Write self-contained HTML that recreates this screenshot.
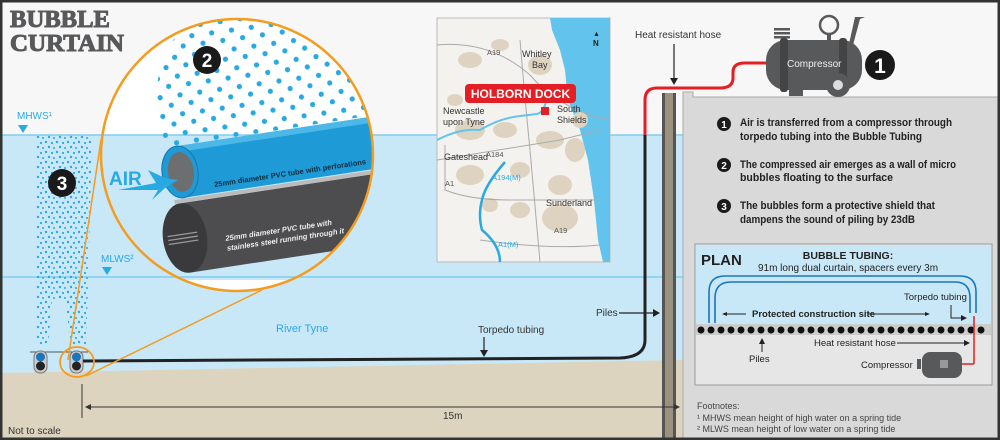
<!DOCTYPE html>
<html><head><meta charset="utf-8"><style>
html,body{margin:0;padding:0;}
body{width:1000px;height:440px;overflow:hidden;background:#fff;}
svg{display:block;}
text{font-family:"Liberation Sans",sans-serif;}
text.ttl{font-family:"Liberation Serif",serif;}
</style></head><body>
<svg width="1000" height="440" viewBox="0 0 1000 440" xmlns="http://www.w3.org/2000/svg">
<defs>
<pattern id="bub" width="11" height="10" patternUnits="userSpaceOnUse">
<circle cx="2" cy="2" r="1.2" fill="#29a9e1"/><circle cx="8" cy="3" r="1.1" fill="#29a9e1"/>
<circle cx="5" cy="7" r="1.2" fill="#29a9e1"/><circle cx="10" cy="8" r="1" fill="#29a9e1"/>
</pattern>
<pattern id="bigbub" width="20" height="19" patternUnits="userSpaceOnUse" patternTransform="rotate(-8)">
<circle cx="5" cy="5" r="2.6" fill="#29a9e1"/><circle cx="15" cy="14" r="2.6" fill="#29a9e1"/>
</pattern>
<clipPath id="cc"><circle cx="237" cy="155" r="136"/></clipPath>
<clipPath id="mc"><rect x="437" y="18" width="173" height="244"/></clipPath>
</defs>
<rect x="0" y="0" width="1000" height="440" fill="#f7f7f7"/>
<rect x="0" y="135" width="684" height="245" fill="#c8e8f8"/>
<line x1="0" y1="135" x2="684" y2="135" stroke="#7fcdf0" stroke-width="1.5"/>
<line x1="0" y1="277" x2="684" y2="277" stroke="#7fcdf0" stroke-width="1.5"/>
<polygon points="0,373 684,360 684,440 0,440" fill="#ddd4bf"/>
<path d="M36,135 L92,135 L88,290 L86,345 L70,345 L66,300 L52,300 L48,345 L36,345 Z" fill="url(#bub)"/>
<circle cx="62" cy="183" r="14" fill="#1a1a1a"/><text x="62" y="190" text-anchor="middle" font-weight="bold" font-size="19" fill="#fff">3</text>
<text x="17" y="119" font-size="10" fill="#29a9e1">MHWS¹</text><polygon points="18,125 28,125 23,133" fill="#29a9e1"/>
<text x="101" y="262" font-size="10" fill="#29a9e1">MLWS²</text><polygon points="102,267 112,267 107,275" fill="#29a9e1"/>
<line x1="30" y1="352" x2="88" y2="352" stroke="#555" stroke-width="1"/>
<rect x="34" y="351" width="13" height="22" rx="6" fill="#ccc" stroke="#777"/>
<circle cx="40.5" cy="357" r="4.5" fill="#1b75bb"/><circle cx="40.5" cy="366" r="4.5" fill="#222"/>
<rect x="70" y="351" width="13" height="22" rx="6" fill="#ccc" stroke="#777"/>
<circle cx="76.5" cy="357" r="4.5" fill="#1b75bb"/><circle cx="76.5" cy="366" r="4.5" fill="#222"/>
<path d="M83,361 L620,358 Q645,357 645,340 L645,135" fill="none" stroke="#222" stroke-width="3"/>
<path d="M645,135 L645,100 Q645,88 657,88 L720,88 Q733,88 733,78 L733,72 Q733,63 745,63 L768,63" fill="none" stroke="#e31e24" stroke-width="3"/>
<line x1="68" y1="360" x2="101" y2="140" stroke="#f39c1f" stroke-width="1.5"/>
<line x1="86" y1="376" x2="262" y2="290" stroke="#f39c1f" stroke-width="1.5"/>
<ellipse cx="77" cy="362" rx="17" ry="15" fill="none" stroke="#f39c1f" stroke-width="1.8"/>
<rect x="662" y="93" width="14" height="347" fill="#555"/>
<rect x="665" y="93" width="8" height="347" fill="#9a917e"/>
<path d="M683,92 L693,92 L693,97 L1000,97 L1000,440 L683,440 Z" fill="#d9d9d9" stroke="#aaa" stroke-width="1"/>
<text x="635" y="38" font-size="10" fill="#333">Heat resistant hose</text>
<line x1="674" y1="44" x2="674" y2="80" stroke="#222" stroke-width="1.2"/><polygon points="670,78 678,78 674,85" fill="#222"/>
<text x="276" y="332" font-size="11" fill="#29a9e1">River Tyne</text>
<text x="478" y="333" font-size="10" fill="#333">Torpedo tubing</text>
<line x1="484" y1="337" x2="484" y2="352" stroke="#222" stroke-width="1.2"/><polygon points="480,350 488,350 484,357" fill="#222"/>
<text x="596" y="316" font-size="10" fill="#333">Piles</text>
<line x1="619" y1="313" x2="655" y2="313" stroke="#222" stroke-width="1.2"/><polygon points="653,309 660,313 653,317" fill="#222"/>
<line x1="82" y1="384" x2="82" y2="418" stroke="#333" stroke-width="1"/>
<line x1="86" y1="407" x2="678" y2="407" stroke="#333" stroke-width="1"/>
<polygon points="85,407 91,404 91,410" fill="#333"/><polygon points="680,407 674,404 674,410" fill="#333"/>
<text x="443" y="419" font-size="10" fill="#333">15m</text>
<text x="8" y="434" font-size="10" fill="#333">Not to scale</text>
<g fill="#58595b">
<rect x="774" y="28" width="16" height="2.5"/><rect x="774" y="32" width="16" height="2.5"/><rect x="774" y="36" width="16" height="2.5"/>
<circle cx="829" cy="25" r="9" fill="none" stroke="#58595b" stroke-width="2.5"/>
<rect x="827" y="33" width="4" height="8"/>
<polygon points="855,17 865,17 860,19 853,45 849,44"/>
<rect x="766" y="40" width="96" height="50" rx="20"/>
<rect x="780" y="38" width="8" height="54" rx="3" fill="#444"/><rect x="839" y="38" width="8" height="54" rx="3" fill="#444"/>
<rect x="789" y="88" width="14" height="8"/>
<circle cx="838" cy="85" r="12"/><circle cx="838" cy="85" r="5" fill="#ddd"/>
</g>
<text x="787" y="67" font-size="10" fill="#eee">Compressor</text>
<circle cx="880" cy="65" r="15" fill="#1a1a1a"/><text x="880" y="73" text-anchor="middle" font-weight="bold" font-size="21" fill="#fff">1</text>
<g font-size="11" font-weight="bold" fill="#222">
<circle cx="724" cy="124" r="7" fill="#1a1a1a"/><text x="724" y="128" text-anchor="middle" font-size="10" fill="#fff">1</text>
<text x="740" y="126" textLength="212" lengthAdjust="spacingAndGlyphs">Air is transferred from a compressor through</text>
<text x="740" y="140" textLength="182" lengthAdjust="spacingAndGlyphs">torpedo tubing into the Bubble Tubing</text>
<circle cx="724" cy="165" r="7" fill="#1a1a1a"/><text x="724" y="169" text-anchor="middle" font-size="10" fill="#fff">2</text>
<text x="740" y="168" textLength="216" lengthAdjust="spacingAndGlyphs">The compressed air emerges as a wall of micro</text>
<text x="740" y="181" textLength="153" lengthAdjust="spacingAndGlyphs">bubbles floating to the surface</text>
<circle cx="724" cy="206" r="7" fill="#1a1a1a"/><text x="724" y="210" text-anchor="middle" font-size="10" fill="#fff">3</text>
<text x="740" y="209" textLength="195" lengthAdjust="spacingAndGlyphs">The bubbles form a protective shield that</text>
<text x="740" y="223" textLength="175" lengthAdjust="spacingAndGlyphs">dampens the sound of piling by 23dB</text>
</g>
<rect x="695" y="244" width="297" height="141" fill="#e6e6e6" stroke="#999"/>
<rect x="696" y="245" width="295" height="80" fill="#c8e8f8"/>
<text x="701" y="265" font-size="15" font-weight="bold" fill="#222">PLAN</text>
<text x="848" y="259" font-size="10.5" font-weight="bold" text-anchor="middle" fill="#222">BUBBLE TUBING:</text>
<text x="848" y="271" font-size="10" text-anchor="middle" fill="#222">91m long dual curtain, spacers every 3m</text>
<path d="M709,323 L709,292 Q709,276 725,276 L960,276 Q976,276 976,292 L976,313" fill="none" stroke="#1b75bb" stroke-width="1.6"/>
<path d="M715,323 L715,298 Q715,282 731,282 L955,282 Q970,282 970,298 L970,313" fill="none" stroke="#1b75bb" stroke-width="1.6"/>
<text x="904" y="300" font-size="9.5" fill="#222">Torpedo tubing</text>
<path d="M951,305 L951,318 L962,318" fill="none" stroke="#222" stroke-width="1"/><polygon points="961,315 967,318 961,321" fill="#222"/>
<text x="752" y="317" font-size="9.5" font-weight="bold" fill="#222">Protected construction site</text>
<line x1="724" y1="314" x2="746" y2="314" stroke="#222"/><polygon points="722,314 727,312 727,316" fill="#222"/>
<line x1="868" y1="314" x2="928" y2="314" stroke="#222"/><polygon points="930,314 925,312 925,316" fill="#222"/>
<rect x="696" y="324" width="295" height="11" fill="#ccc"/>
<line x1="701" y1="330" x2="987" y2="330" stroke="#111" stroke-width="7" stroke-dasharray="0,10" stroke-linecap="round"/>
<line x1="974" y1="316" x2="974" y2="364" stroke="#e31e24" stroke-width="1.5"/><line x1="974" y1="364" x2="962" y2="364" stroke="#e31e24" stroke-width="1.5"/>
<text x="814" y="346" font-size="9.5" fill="#222">Heat resistant hose</text>
<line x1="897" y1="343" x2="968" y2="343" stroke="#222"/><polygon points="970,343 964,340 964,346" fill="#222"/>
<line x1="762" y1="342" x2="762" y2="352" stroke="#222"/><polygon points="762,338 759,344 765,344" fill="#222"/>
<text x="749" y="362" font-size="9.5" fill="#222">Piles</text>
<text x="861" y="368" font-size="9.5" fill="#222">Compressor</text>
<rect x="922" y="352" width="40" height="26" rx="8" fill="#58595b"/><rect x="917" y="359" width="4" height="10" fill="#58595b"/>
<rect x="940" y="360" width="8" height="8" fill="#999"/>
<text x="697" y="409" font-size="9" fill="#444">Footnotes:</text>
<text x="697" y="421" font-size="9" fill="#444">¹ MHWS mean height of high water on a spring tide</text>
<text x="697" y="432" font-size="9" fill="#444">² MLWS mean height of low water on a spring tide</text>
<rect x="437" y="18" width="173" height="244" fill="#f4f2ee" stroke="#bbb"/>
<g clip-path="url(#mc)">
<path d="M550,18 L610,18 L610,262 L603,262 L598,240 L594,200 L588,160 L580,130 L568,100 L565,70 L560,50 L552,30 Z" fill="#62c3ec"/>
<g fill="#ddd3c0">
<ellipse cx="470" cy="60" rx="12" ry="8"/><ellipse cx="500" cy="45" rx="9" ry="6"/><ellipse cx="540" cy="65" rx="12" ry="10"/>
<ellipse cx="470" cy="130" rx="15" ry="10"/><ellipse cx="505" cy="130" rx="12" ry="8"/><ellipse cx="550" cy="140" rx="14" ry="9"/>
<ellipse cx="575" cy="150" rx="10" ry="12"/><ellipse cx="470" cy="175" rx="14" ry="10"/><ellipse cx="520" cy="170" rx="10" ry="8"/>
<ellipse cx="560" cy="185" rx="12" ry="10"/><ellipse cx="560" cy="218" rx="18" ry="14"/><ellipse cx="520" cy="210" rx="10" ry="8"/>
<ellipse cx="490" cy="205" rx="8" ry="7"/><ellipse cx="580" cy="120" rx="8" ry="8"/><ellipse cx="455" cy="100" rx="8" ry="6"/>
</g>
<g fill="none" stroke="#aaa" stroke-width="1">
<path d="M437,45 Q490,40 530,75 Q560,110 610,120"/><path d="M437,160 Q500,150 560,140 L600,130"/>
<path d="M445,145 L445,190 Q470,200 510,200 L600,200"/><path d="M520,40 Q525,100 530,150 L540,262"/>
<path d="M480,240 Q550,250 600,245"/>
</g>
<path d="M437,140 Q460,128 480,130 Q500,118 520,116 L537,114 Q545,112 547,96" fill="none" stroke="#62c3ec" stroke-width="2"/>
<path d="M505,162 Q485,185 482,200 Q478,215 482,230 Q500,245 500,262" fill="none" stroke="#29a9e1" stroke-width="2.5"/>
</g>
<g font-size="7.5" fill="#555"><text x="487" y="55">A19</text><text x="486" y="157">A184</text><text x="445" y="186">A1</text><text x="554" y="233">A19</text></g>
<g font-size="7.5" fill="#29a9e1"><text x="492" y="180">A194(M)</text><text x="498" y="247">A1(M)</text></g>
<g font-size="9" fill="#333"><text x="522" y="57">Whitley</text><text x="532" y="68">Bay</text>
<text x="443" y="114">Newcastle</text><text x="443" y="125">upon Tyne</text><text x="557" y="112">South</text><text x="557" y="123">Shields</text>
<text x="444" y="160">Gateshead</text><text x="546" y="206">Sunderland</text></g>
<text x="593" y="36" font-size="7" font-weight="bold" fill="#222">▲</text><text x="593" y="46" font-size="8" font-weight="bold" fill="#222">N</text>
<rect x="465" y="84" width="111" height="19" rx="4" fill="#e31e24"/>
<text x="520.5" y="98" font-size="12" font-weight="bold" text-anchor="middle" fill="#fff">HOLBORN DOCK</text>
<rect x="541" y="107" width="8" height="8" fill="#e31e24"/>
<circle cx="237" cy="155" r="136" fill="#fff"/>
<g clip-path="url(#cc)">
<rect x="101" y="135" width="272" height="145" fill="#c8e8f8"/>
<line x1="100" y1="135" x2="374" y2="135" stroke="#7fcdf0" stroke-width="1.5"/>
<line x1="100" y1="277" x2="374" y2="277" stroke="#7fcdf0" stroke-width="1.5"/>
<path d="M160,70 Q170,30 200,20 L374,20 L374,115 L165,148 Q150,110 160,70 Z" fill="url(#bigbub)"/>
<g transform="rotate(-8.6 185 238)">
<rect x="185" y="203" width="260" height="70" fill="#4d4d4f"/>
<ellipse cx="185" cy="238" rx="22" ry="35" fill="#3a3a3c"/>
<g stroke="#999" stroke-width="1.3"><line x1="168" y1="234" x2="198" y2="234"/><line x1="168" y1="238" x2="198" y2="238"/><line x1="168" y1="242" x2="198" y2="242"/></g>
<rect x="180" y="199" width="265" height="4" fill="#bbb"/>
</g>
<g transform="rotate(-8.6 180 172)">
<rect x="180" y="146" width="265" height="52" fill="#1e9ad6"/>
<rect x="180" y="146" width="265" height="6" fill="#4cb8e8"/>
<ellipse cx="180" cy="172" rx="18" ry="26" fill="#1e9ad6" stroke="#1876a8"/>
<ellipse cx="181" cy="172" rx="13" ry="20" fill="#6d6e70"/>
<text x="212" y="192" font-size="7.5" font-weight="bold" fill="#0d2a3a">25mm diameter PVC tube with perforations</text>
<text x="215" y="247" font-size="7.5" font-weight="bold" font-style="italic" fill="#eee">25mm diameter PVC tube with</text>
<text x="215" y="257" font-size="7.5" font-weight="bold" font-style="italic" fill="#eee">stainless steel running through it</text>
</g>
</g>
<circle cx="237" cy="155" r="136" fill="none" stroke="#f39c1f" stroke-width="2.5"/>
<circle cx="207" cy="60" r="14" fill="#1a1a1a"/><text x="207" y="67" text-anchor="middle" font-weight="bold" font-size="19" fill="#fff">2</text>
<text x="109" y="185" font-size="19" font-weight="bold" fill="#29a9e1">AIR</text>
<polygon points="148,170 165,178 178,180 165,188 152,200 158,190 118,190 156,183" fill="#29a9e1"/>
<g font-weight="bold" font-size="24" fill="#58595b" stroke="#58595b" stroke-width="1">
<text class="ttl" x="10" y="27" textLength="100" lengthAdjust="spacingAndGlyphs">BUBBLE</text><text class="ttl" x="10" y="51" textLength="114" lengthAdjust="spacingAndGlyphs">CURTAIN</text>
</g>
<rect x="1" y="1" width="998" height="438" fill="none" stroke="#333" stroke-width="3"/>
</svg>
</body></html>
